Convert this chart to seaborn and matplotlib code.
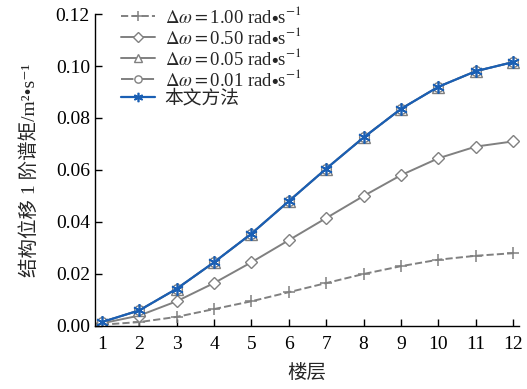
import matplotlib
matplotlib.use("Agg")
import matplotlib.pyplot as plt
import seaborn as sns
import pandas as pd

floors = list(range(1, 13))
s_100 = [0.0005, 0.0015, 0.0035, 0.0065, 0.0095, 0.013, 0.0165, 0.020, 0.023, 0.0255, 0.027, 0.028]
s_050 = [0.001, 0.004, 0.0095, 0.0165, 0.0245, 0.033, 0.0415, 0.050, 0.058, 0.0645, 0.069, 0.071]
s_005 = [0.0015, 0.006, 0.0143, 0.0245, 0.0355, 0.048, 0.0605, 0.0725, 0.0835, 0.092, 0.098, 0.1015]
s_001 = [0.0015, 0.006, 0.0143, 0.0245, 0.0355, 0.048, 0.0605, 0.0725, 0.0835, 0.092, 0.098, 0.1015]
s_ours = [0.0015, 0.006, 0.0143, 0.0245, 0.0355, 0.048, 0.0605, 0.0725, 0.0835, 0.092, 0.098, 0.1015]
labels = [r"$\Delta\omega$$=$1.00 rad$\bullet$s$^{-1}$",
          r"$\Delta\omega$$=$0.50 rad$\bullet$s$^{-1}$",
          r"$\Delta\omega$$=$0.05 rad$\bullet$s$^{-1}$",
          r"$\Delta\omega$$=$0.01 rad$\bullet$s$^{-1}$",
          "本文方法"]
xticks = list(range(1, 13))
yticks = [0.00, 0.02, 0.04, 0.06, 0.08, 0.10, 0.12]

sns.set_style("ticks")
plt.rcParams['font.family'] = ['Liberation Serif', 'Noto Sans CJK SC', 'DejaVu Serif']
plt.rcParams['mathtext.fontset'] = 'stix'

fig = plt.figure(figsize=(5.27, 3.89), dpi=100)
ax = fig.add_axes([0.180, 0.162, 0.805, 0.802])

gray = '#808080'
blue = '#1a5fb4'
styles = [
    dict(color=gray, linestyle='--', marker='+', markersize=9, markeredgecolor=gray, markeredgewidth=1.1, linewidth=1.4),
    dict(color=gray, linestyle='-', marker='D', markersize=6.5, markerfacecolor='white', markeredgecolor=gray, markeredgewidth=1.0, linewidth=1.4),
    dict(color=gray, linestyle='-', marker='^', markersize=8, markerfacecolor='white', markeredgecolor=gray, markeredgewidth=1.0, linewidth=1.4),
    dict(color=gray, linestyle='-.', marker='o', markersize=7, markerfacecolor='white', markeredgecolor=gray, markeredgewidth=1.0, linewidth=1.4),
    dict(color=blue, linestyle='-', marker=(6, 2, 0), markersize=9, markeredgecolor=blue, markeredgewidth=1.2, linewidth=1.6),
]
series = [s_100, s_050, s_005, s_001, s_ours]
for vals, lab, st in zip(series, labels, styles):
    df = pd.DataFrame({'x': floors, 'y': vals})
    sns.lineplot(data=df, x='x', y='y', ax=ax, label=lab, **st)

ax.set_xlim(0.813, 12.16)
ax.set_ylim(0, 0.12)
ax.set_xticks(xticks)
ax.set_yticks(yticks)
ax.set_yticklabels([f"{v:.2f}" for v in yticks])
ax.tick_params(direction='in', labelsize=14, length=5, width=1, colors='black')
ax.tick_params(axis='x', pad=7)
for s in ['left', 'bottom']:
    ax.spines[s].set_color('black')
    ax.spines[s].set_linewidth(1.0)
sns.despine(ax=ax)
ax.set_xlabel("楼层", fontsize=14, labelpad=8)
ax.set_ylabel("结构位移 1 阶谱矩/m²•s⁻¹", fontsize=14, labelpad=12)
leg = ax.legend(loc='upper left', bbox_to_anchor=(0.045, 1.05), frameon=False, fontsize=13.5,
                handlelength=1.8, labelspacing=0.0, handletextpad=0.5, borderaxespad=0,
                markerscale=0.75)
fig.savefig("out.png", dpi=100)
